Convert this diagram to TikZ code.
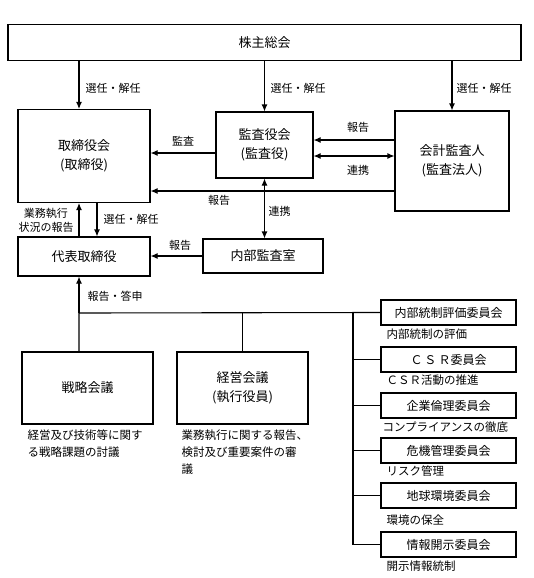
\documentclass[tikz,border=0pt]{standalone}
\usepackage{fontspec}
\setmainfont{Noto Sans CJK JP}
\usepackage{tikz}
\usetikzlibrary{arrows.meta}
\tikzset{>={Latex[length=7pt, width=6pt]}}
\tikzset{box/.style = {draw, line width=1.1pt, inner sep=0pt, align=center,
                       font=\fontsize{13}{18.5}\selectfont},
         cbox/.style = {draw, line width=1.1pt, inner sep=0pt,
                        minimum width=135pt, minimum height=25pt,
                        font=\fontsize{12}{14}\selectfont},
         lbl/.style = {inner sep=0pt, font=\fontsize{11}{14}\selectfont},
         clbl/.style = {inner sep=0pt, anchor=west, font=\fontsize{11.5}{14}\selectfont},
         note/.style = {inner sep=0pt, align=left, anchor=west,
                        font=\fontsize{11.5}{17}\selectfont}}

\begin{document}
\begin{tikzpicture}[x=1pt, y=-1pt, line width=1.1pt]
    \useasboundingbox (0, 0) rectangle (533, 578);

    \node [box, minimum width=513pt, minimum height=36pt] (soukai) at (264.5, 42.5) {株主総会};
    \node [box, minimum width=132pt, minimum height=93pt] (torishimari) at (84, 156) {取締役会\\(取締役)};
    \node [box, minimum width=97pt, minimum height=66pt] (kansayaku) at (264.5, 145) {監査役会\\(監査役)};
    \node [box, minimum width=114pt, minimum height=100pt] (kaikei) at (452, 161) {会計監査人\\(監査法人)};
    \node [box, minimum width=132pt, minimum height=39pt] (daihyo) at (84, 256.5) {代表取締役};
    \node [box, minimum width=120pt, minimum height=34pt] (naibu) at (263, 256) {内部監査室};
    \node [box, minimum width=131pt, minimum height=72pt] (senryaku) at (87.5, 388) {戦略会議};
    \node [box, minimum width=131pt, minimum height=72pt] (keiei) at (242.5, 388) {経営会議\\(執行役員)};

    \node [cbox] (iceval) at (448.5, 312.5) {内部統制評価委員会};
    \node [cbox] (csr) at (448.5, 359.5) {Ｃ\,Ｓ\,Ｒ委員会};
    \node [cbox] (rinri) at (448.5, 405.5) {企業倫理委員会};
    \node [cbox] (kiki) at (448.5, 450.5) {危機管理委員会};
    \node [cbox] (chikyu) at (448.5, 495.5) {地球環境委員会};
    \node [cbox] (kaiji) at (448.5, 544.5) {情報開示委員会};

    \coordinate (colA) at (79, 0);
    \coordinate (colB) at (97, 0);
    \coordinate (rowA) at (0, 140);
    \coordinate (rowB) at (0, 156);
    \coordinate (rowC) at (0, 153);
    \coordinate (rowD) at (0, 191);
    \coordinate (hub) at (79, 313);
    \coordinate (trunk) at (353, 313);

    \draw [->] (soukai.south -| colA) -- (torishimari.north -| colA);
    \draw [->] (soukai.south -| kansayaku) -- (kansayaku.north);
    \draw [->] (soukai.south -| kaikei) -- (kaikei.north);
    \draw [->] (kansayaku.west |- rowC) -- (torishimari.east |- rowC);
    \draw [->] (kaikei.west |- rowA) -- (kansayaku.east |- rowA);
    \draw [<->] (kansayaku.east |- rowB) -- (kaikei.west |- rowB);
    \draw [->] (kaikei.west |- rowD) -- (torishimari.east |- rowD);
    \draw [<->] (kansayaku.south) -- (kansayaku.south |- naibu.north);
    \draw [->] (daihyo.north -| colA) -- (torishimari.south -| colA);
    \draw [->] (torishimari.south -| colB) -- (daihyo.north -| colB);
    \draw [->] (naibu.west) -- (daihyo.east |- naibu.west);
    \draw [->] (hub) -- (daihyo.south -| hub);
    \draw (senryaku.north -| hub) -- (hub) -- (iceval.west);
    \draw (keiei.north) -- (keiei.north |- hub);
    \draw (trunk) -- (trunk |- kaiji.west) -- (kaiji.west);
    \foreach \c in {csr, rinri, kiki, chikyu}
        \draw (trunk |- \c.west) -- (\c.west);

    \node [lbl, anchor=west] (sel1) at (85, 88) {選任・解任};
    \node [lbl, anchor=west] (sel2) at (270, 88) {選任・解任};
    \node [lbl, anchor=west] (sel3) at (456, 88) {選任・解任};
    \node [lbl] (kansa) at (183, 141) {監査};
    \node [lbl] (hokoku1) at (358, 127) {報告};
    \node [lbl] (renkei1) at (358, 170) {連携};
    \node [lbl] (hokoku2) at (219, 200) {報告};
    \node [lbl] (renkei2) at (279.5, 211.5) {連携};
    \node [lbl, align=center] (gyomu) at (46, 220) {業務執行\\状況の報告};
    \node [lbl, anchor=west] (sel4) at (103, 219) {選任・解任};
    \node [lbl] (hokoku3) at (180, 245.5) {報告};
    \node [lbl, anchor=west] (toshin) at (87, 296) {報告・答申};

    \node [note] (senryakunote) at (27, 443.5) {経営及び技術等に関す\\る戦略課題の討議};
    \node [note] (keieinote) at (181, 452) {業務執行に関する報告、\\検討及び重要案件の審\\議};

    \node [clbl] (icevalnote) at (386, 334) {内部統制の評価};
    \node [clbl] (csrnote) at (386, 380) {ＣＳＲ活動の推進};
    \node [clbl] (rinrinote) at (382, 427) {コンプライアンスの徹底};
    \node [clbl] (kikinote) at (386, 471) {リスク管理};
    \node [clbl] (chikyunote) at (386, 520) {環境の保全};
    \node [clbl] (kaijinote) at (386, 566) {開示情報統制};
\end{tikzpicture}
\end{document}
